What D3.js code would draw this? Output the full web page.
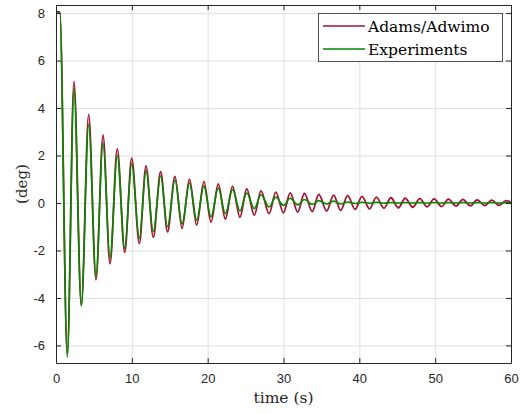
<!DOCTYPE html>
<html>
<head>
<meta charset="utf-8">
<script src="https://cdn.jsdelivr.net/npm/d3@7"></script>
<style>body{margin:0;background:#fff}</style>
</head>
<body>
<script>
// time (s) of the turning points, plus start and end
var times = [0, 0.5,
  1.49, 2.37, 3.34, 4.31, 5.27, 6.20, 7.12, 8.08, 9.06, 9.98,
  10.99, 11.87, 12.83, 13.80, 14.70, 15.69, 16.62, 17.60, 18.55, 19.50,
  20.44, 21.40, 22.33, 23.28, 24.26, 25.15, 26.15, 27.03, 28.10, 28.98,
  29.99, 30.88, 31.88, 32.75, 33.80, 34.65, 35.70, 36.60, 37.55, 38.45,
  39.45, 40.35, 41.35, 42.25, 43.25, 44.15, 45.15, 46.05, 47.05, 47.95,
  48.95, 49.85, 50.85, 51.75, 52.75, 53.65, 54.65, 55.55, 56.55, 57.45,
  58.45, 59.35, 60];

var adams = [8.05, 8.05,
  -6.35, 5.12, -4.30, 3.73, -3.24, 2.86, -2.56, 2.28, -2.08, 1.89,
  -1.71, 1.56, -1.45, 1.32, -1.22, 1.12, -1.07, 1.00, -0.93, 0.90,
  -0.81, 0.80, -0.68, 0.70, -0.60, 0.60, -0.52, 0.51, -0.45, 0.46,
  -0.41, 0.43, -0.38, 0.40, -0.36, 0.36, -0.34, 0.33, -0.31, 0.31,
  -0.27, 0.28, -0.25, 0.25, -0.22, 0.22, -0.20, 0.20, -0.18, 0.18,
  -0.16, 0.17, -0.15, 0.16, -0.13, 0.15, -0.12, 0.13, -0.11, 0.12,
  -0.10, 0.10, 0.02];

var experiments = [8.0, 8.0,
  -6.50, 4.83, -4.34, 3.31, -3.10, 2.54, -2.33, 2.00, -1.91, 1.66,
  -1.49, 1.37, -1.20, 1.15, -1.00, 0.97, -0.88, 0.83, -0.72, 0.71,
  -0.58, 0.63, -0.45, 0.57, -0.33, 0.42, -0.24, 0.35, -0.17, 0.25,
  -0.10, 0.20, -0.08, 0.15, -0.06, 0.10, -0.04, 0.08, -0.04, 0.04,
  -0.02, 0.03, -0.01, 0.03, -0.01, 0.02, 0.00, 0.02, 0.00, 0.02,
  0.00, 0.02, 0.00, 0.02, 0.00, 0.02, 0.00, 0.02, 0.00, 0.02,
  0.00, 0.02, 0.01];

var seriesNames = ['Adams/Adwimo', 'Experiments'];
var xTicks = [0, 10, 20, 30, 40, 50, 60];
var yTicks = [-6, -4, -2, 0, 2, 4, 6, 8];
var yTickLabels = ['-6', '-4', '-2', '0', '2', '4', '6', '8'];

var svg = d3.select('body').append('svg').attr('width', 524).attr('height', 414);

var pLeft = 56, pRight = 511, pTop = 5, pBottom = 363;
var x = d3.scaleLinear().domain([0, 60]).range([pLeft, pRight]);
var y = d3.scaleLinear().domain([-6.74, 8.34]).range([pBottom, pTop]);

var axisColor = '#262626';
var tickFont = '"Liberation Sans", Arial, sans-serif';
var serif = '"DejaVu Serif", serif';

// grid
var grid = svg.append('g');
grid.append('g').attr('transform', 'translate(0,' + pBottom + ')')
  .call(d3.axisBottom(x).tickValues(xTicks).tickSize(-(pBottom - pTop)).tickFormat(''));
grid.append('g').attr('transform', 'translate(' + pLeft + ',0)')
  .call(d3.axisLeft(y).tickValues(yTicks).tickSize(-(pRight - pLeft)).tickFormat(''));
grid.selectAll('.domain').remove();
grid.selectAll('line').attr('stroke', '#dfdfdf').attr('stroke-width', 1);

// lines
svg.append('clipPath').attr('id', 'clip').append('rect')
  .attr('x', pLeft).attr('y', pTop).attr('width', pRight - pLeft).attr('height', pBottom - pTop);

var line = d3.line().curve(d3.curveMonotoneX)
  .x(function(d) { return x(d[0]); })
  .y(function(d) { return y(d[1]); });

var colors = ['#a2142f', '#008a00'];
var allSeries = [adams, experiments];
allSeries.forEach(function(vals, i) {
  svg.append('path')
    .datum(times.map(function(t, j) { return [t, vals[j]]; }))
    .attr('clip-path', 'url(#clip)')
    .attr('fill', 'none')
    .attr('stroke', colors[i])
    .attr('stroke-width', i == 0 ? 1.8 : 1.6)
    .attr('stroke-linejoin', 'round')
    .attr('d', line);
});

// axes, ticks inward on all four sides
var ax = svg.append('g').attr('font-family', tickFont);
ax.append('g').attr('transform', 'translate(0,' + pBottom + ')')
  .call(d3.axisBottom(x).tickValues(xTicks).tickSizeInner(-5).tickSizeOuter(0).tickPadding(11));
ax.append('g').attr('transform', 'translate(0,' + pTop + ')')
  .call(d3.axisTop(x).tickValues(xTicks).tickSizeInner(-5).tickSizeOuter(0).tickFormat(''));
ax.append('g').attr('transform', 'translate(' + pLeft + ',0)')
  .call(d3.axisLeft(y).tickValues(yTicks).tickSizeInner(-5).tickSizeOuter(0).tickPadding(11)
    .tickFormat(function(d, i) { return yTickLabels[i]; }));
ax.append('g').attr('transform', 'translate(' + pRight + ',0)')
  .call(d3.axisRight(y).tickValues(yTicks).tickSizeInner(-5).tickSizeOuter(0).tickFormat(''));
ax.selectAll('.domain').attr('stroke', axisColor).attr('stroke-width', 1);
ax.selectAll('line').attr('stroke', axisColor);
ax.selectAll('text').attr('fill', axisColor).attr('font-size', 13);

// axis labels
svg.append('text').attr('x', (pLeft + pRight) / 2).attr('y', 403)
  .attr('text-anchor', 'middle').attr('font-family', serif).attr('font-size', 15.5)
  .attr('fill', axisColor).text('time (s)');
svg.append('text').attr('transform', 'translate(27,184) rotate(-90)')
  .attr('text-anchor', 'middle').attr('font-family', serif).attr('font-size', 15)
  .attr('fill', axisColor).text('(deg)');

// legend
var legend = svg.append('g');
legend.append('rect').attr('x', 318.5).attr('y', 13.5).attr('width', 184).attr('height', 48)
  .attr('fill', 'white').attr('stroke', axisColor).attr('stroke-width', 0.8);
seriesNames.forEach(function(name, i) {
  var ly = 26 + i * 23;
  legend.append('line').attr('x1', 323).attr('x2', 365).attr('y1', ly).attr('y2', ly)
    .attr('stroke', colors[i]).attr('stroke-width', 1.6);
  legend.append('text').attr('x', 368).attr('y', ly + 5.5)
    .attr('font-family', serif).attr('font-size', 15.5).attr('fill', '#000').text(name);
});
</script>
</body>
</html>
